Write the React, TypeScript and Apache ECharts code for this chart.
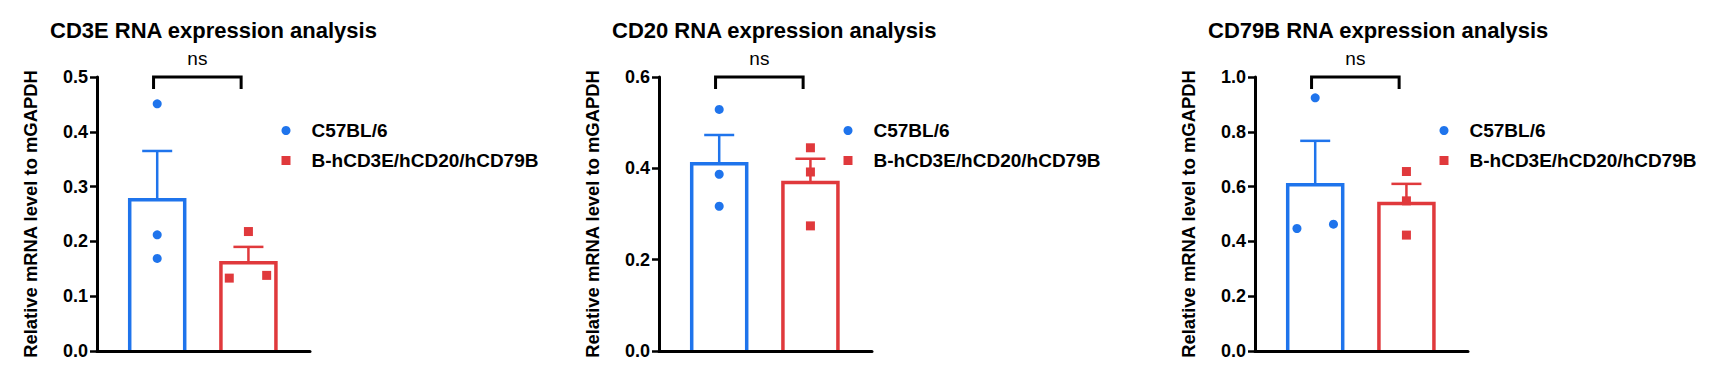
import React, { useEffect, useRef } from "react";
import * as echarts from "echarts";

const groups = ["C57BL/6", "B-hCD3E/hCD20/hCD79B"];
const panelTitles = [
  "CD3E RNA expression analysis",
  "CD20 RNA expression analysis",
  "CD79B RNA expression analysis",
];
const yAxisName = "Relative mRNA level to mGAPDH";
const yMax = [0.5, 0.6, 1.0];
const yInterval = [0.1, 0.2, 0.2];
const sigLabel = "ns";

// group means and SEM
const wtMean = [0.276, 0.41, 0.607];
const wtSem = [0.089, 0.063, 0.16];
const tgMean = [0.161, 0.369, 0.538];
const tgSem = [0.029, 0.052, 0.072];

// individual points: [x position (group 1 or 2, with jitter), value]
const wtPoints = [
  [[1, 0.451], [1, 0.212], [1, 0.169]],
  [[1, 0.529], [1, 0.387], [1, 0.317]],
  [[0.8, 0.447], [1, 0.924], [1.2, 0.463]],
];
const tgPoints = [
  [[1.79, 0.133], [2, 0.218], [2.2, 0.138]],
  [[2, 0.445], [2, 0.392], [2, 0.274]],
  [[2, 0.655], [2, 0.548], [2, 0.423]],
];

const BLUE = "#1f74ec";
const RED = "#e0393c";
const FONT = "'Liberation Sans', Arial, sans-serif";
const gridLefts = [97, 659, 1255];
const GRID_W = 213;
const GRID_TOP = 77;
const GRID_H = 274;
const BAR_W = 55;

export default function App() {
  const ref = useRef<HTMLDivElement>(null);
  useEffect(() => {
    if (!ref.current) return;
    const chart = echarts.init(ref.current, null, { renderer: "svg" });
    const grid: any[] = [];
    const xAxis: any[] = [];
    const yAxis: any[] = [];
    const title: any[] = [];
    const legend: any[] = [];
    const series: any[] = [];
    panelTitles.forEach((t, i) => {
      const L = gridLefts[i];
      grid.push({ left: L, top: GRID_TOP, width: GRID_W, height: GRID_H, containLabel: false });
      xAxis.push({
        type: "value",
        gridIndex: i,
        min: 0.34,
        max: 2.675,
        z: 10,
        axisLine: { show: true, onZero: false, lineStyle: { color: "#000", width: 3 } },
        axisTick: { show: false },
        axisLabel: { show: false },
        splitLine: { show: false },
      });
      yAxis.push({
        type: "value",
        gridIndex: i,
        min: 0,
        max: yMax[i],
        interval: yInterval[i],
        z: 10,
        name: yAxisName,
        nameLocation: "middle",
        nameGap: 58,
        nameTextStyle: { fontSize: 18.4, fontWeight: "bold", color: "#000", fontFamily: FONT },
        axisLine: { show: true, lineStyle: { color: "#000", width: 3 } },
        axisTick: { show: true, length: 7, lineStyle: { color: "#000", width: 2.5 } },
        axisLabel: {
          fontSize: 18,
          fontWeight: "bold",
          color: "#000",
          margin: 9,
          fontFamily: FONT,
          formatter: (v: number) => v.toFixed(1),
        },
        splitLine: { show: false },
      });
      title.push({
        text: t,
        left: L - 47,
        top: 19,
        padding: 0,
        textStyle: { fontSize: 22, fontWeight: "bold", color: "#000", fontFamily: FONT },
      });
      legend.push({
        orient: "vertical",
        left: L + 184.5,
        top: 121,
        padding: 0,
        itemWidth: 9,
        itemHeight: 9,
        itemGap: 11,
        selectedMode: false,
        data: [
          { name: groups[0], icon: "circle" },
          { name: groups[1], icon: "rect" },
        ],
        textStyle: {
          fontSize: 19,
          fontWeight: "bold",
          color: "#000",
          fontFamily: FONT,
          padding: [0, 0, 0, 16],
        },
      });
      // bars: open-bottom outlined rectangles
      series.push({
        type: "custom",
        name: "bars" + i,
        xAxisIndex: i,
        yAxisIndex: i,
        z: 2,
        data: [
          [1, wtMean[i], 0],
          [2, tgMean[i], 1],
        ],
        renderItem: (params: any, api: any) => {
          const x = api.value(0);
          const top = api.coord([x, api.value(1)]);
          const base = api.coord([x, 0]);
          const c = api.value(2) === 0 ? BLUE : RED;
          const h = BAR_W / 2;
          return {
            type: "polyline",
            shape: {
              points: [
                [top[0] - h, base[1]],
                [top[0] - h, top[1]],
                [top[0] + h, top[1]],
                [top[0] + h, base[1]],
              ],
            },
            style: { stroke: c, lineWidth: 3.5, fill: "none", lineJoin: "miter" },
          };
        },
      });
      series.push({
        type: "custom",
        name: "err" + i,
        xAxisIndex: i,
        yAxisIndex: i,
        z: 3,
        data: [
          [1, wtMean[i], wtMean[i] + wtSem[i], 0],
          [2, tgMean[i], tgMean[i] + tgSem[i], 1],
        ],
        renderItem: (params: any, api: any) => {
          const x = api.value(0);
          const p0 = api.coord([x, api.value(1)]);
          const p1 = api.coord([x, api.value(2)]);
          const c = api.value(3) === 0 ? BLUE : RED;
          const style = { stroke: c, lineWidth: 2.5 };
          return {
            type: "group",
            children: [
              { type: "line", shape: { x1: p0[0], y1: p0[1] - 1.5, x2: p1[0], y2: p1[1] }, style },
              { type: "line", shape: { x1: p1[0] - 15, y1: p1[1], x2: p1[0] + 15, y2: p1[1] }, style },
            ],
          };
        },
      });
      series.push({
        type: "scatter",
        name: groups[0],
        xAxisIndex: i,
        yAxisIndex: i,
        symbol: "circle",
        symbolSize: 9,
        itemStyle: { color: BLUE, opacity: 1 },
        z: 4,
        data: wtPoints[i],
      });
      series.push({
        type: "scatter",
        name: groups[1],
        xAxisIndex: i,
        yAxisIndex: i,
        symbol: "rect",
        symbolSize: 9,
        itemStyle: { color: RED, opacity: 1 },
        z: 4,
        data: tgPoints[i],
      });
      series.push({
        type: "custom",
        name: "sig" + i,
        xAxisIndex: i,
        yAxisIndex: i,
        z: 5,
        clip: false,
        data: [[0.96, 1.92, yMax[i]]],
        renderItem: (params: any, api: any) => {
          const a = api.coord([api.value(0), api.value(2)]);
          const b = api.coord([api.value(1), api.value(2)]);
          return {
            type: "group",
            children: [
              {
                type: "polyline",
                shape: { points: [[a[0], a[1] + 12], [a[0], a[1]], [b[0], b[1]], [b[0], b[1] + 12]] },
                style: { stroke: "#000", lineWidth: 3, fill: "none" },
              },
              {
                type: "text",
                x: (a[0] + b[0]) / 2,
                y: a[1] - 19,
                style: {
                  text: sigLabel,
                  fontSize: 19,
                  fontFamily: FONT,
                  fill: "#000",
                  align: "center",
                  verticalAlign: "middle",
                },
              },
            ],
          };
        },
      });
    });
    chart.setOption({
      animation: false,
      backgroundColor: "#fff",
      textStyle: { fontFamily: FONT },
      title,
      legend,
      grid,
      xAxis,
      yAxis,
      series,
    });
    return () => chart.dispose();
  }, []);
  return (
    <div
      ref={ref}
      style={{ position: "fixed", left: 0, top: 0, width: 1716, height: 375 }}
    />
  );
}
